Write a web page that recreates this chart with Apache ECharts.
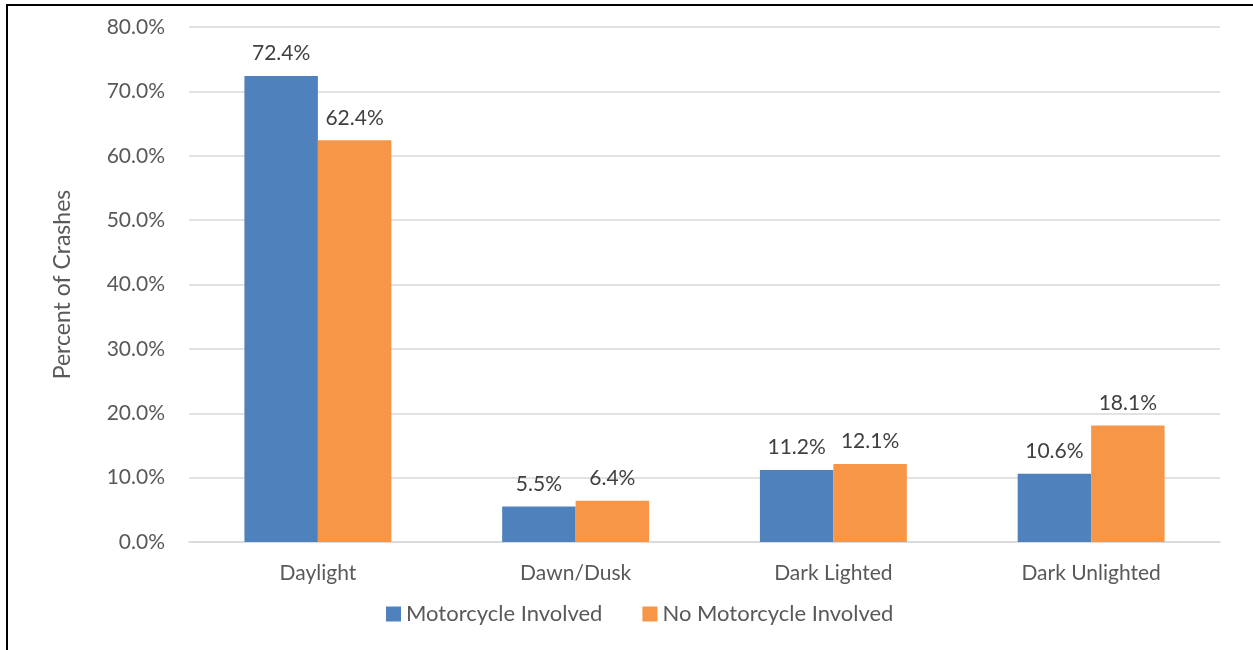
<!DOCTYPE html>
<html><head><meta charset="utf-8">
<script src="https://cdn.jsdelivr.net/npm/echarts@6/dist/echarts.min.js"></script>
<style>html,body{margin:0;padding:0;background:#fff;}#c{width:1253px;height:650px;}</style>
</head><body><div id="c"></div>
<script>
const categories = ['Daylight', 'Dawn/Dusk', 'Dark Lighted', 'Dark Unlighted'];
const motorcycle = [72.4, 5.5, 11.2, 10.6];
const noMotorcycle = [62.4, 6.4, 12.1, 18.1];
const seriesNames = ['Motorcycle Involved', 'No Motorcycle Involved'];

const FONT = 'Lato, "Open Sans", sans-serif';
const TXT = '#595959';
const FS = 21;
const chart = echarts.init(document.getElementById('c'), null, {renderer: 'canvas'});
const lbl = {show: true, position: 'top', distance: 12, color: '#404040', fontSize: FS, fontFamily: FONT,
  formatter: p => p.value.toFixed(1) + '%'};
chart.setOption({
  animation: false,
  textStyle: {fontFamily: FONT},
  graphic: [{type: 'rect', shape: {x: 7, y: 5, width: 1400, height: 800},
    style: {fill: null, stroke: '#000', lineWidth: 2}, silent: true}],
  grid: {left: 189, right: 33, top: 27, bottom: 108, containLabel: false},
  legend: {top: 598, left: 381, itemWidth: 15, itemHeight: 15, itemGap: 40, itemStyle: {borderWidth: 0}, icon: 'rect',
    textStyle: {color: TXT, fontSize: 22, fontFamily: FONT}, data: seriesNames},
  xAxis: {type: 'category', data: categories,
    axisLine: {lineStyle: {color: '#d9d9d9', width: 1.5}}, axisTick: {show: false},
    axisLabel: {color: TXT, fontSize: FS, fontFamily: FONT, margin: 21}},
  yAxis: {type: 'value', min: 0, max: 80, interval: 10,
    name: 'Percent of Crashes', nameLocation: 'middle', nameGap: 115, nameRotate: 90,
    nameTextStyle: {color: TXT, fontSize: 23, fontFamily: FONT},
    axisLabel: {color: TXT, fontSize: FS, fontFamily: FONT, margin: 24, formatter: v => v.toFixed(1) + '%'},
    axisLine: {show: false}, axisTick: {show: false},
    splitLine: {lineStyle: {color: '#d9d9d9', width: 1.5}}},
  series: [
    {name: seriesNames[0], type: 'bar', data: motorcycle, barGap: '0%', barCategoryGap: '43%',
      itemStyle: {color: '#4F81BD'}, label: lbl},
    {name: seriesNames[1], type: 'bar', data: noMotorcycle, barGap: '0%', barCategoryGap: '43%',
      itemStyle: {color: '#F79646'}, label: lbl}
  ]
});
</script></body></html>
